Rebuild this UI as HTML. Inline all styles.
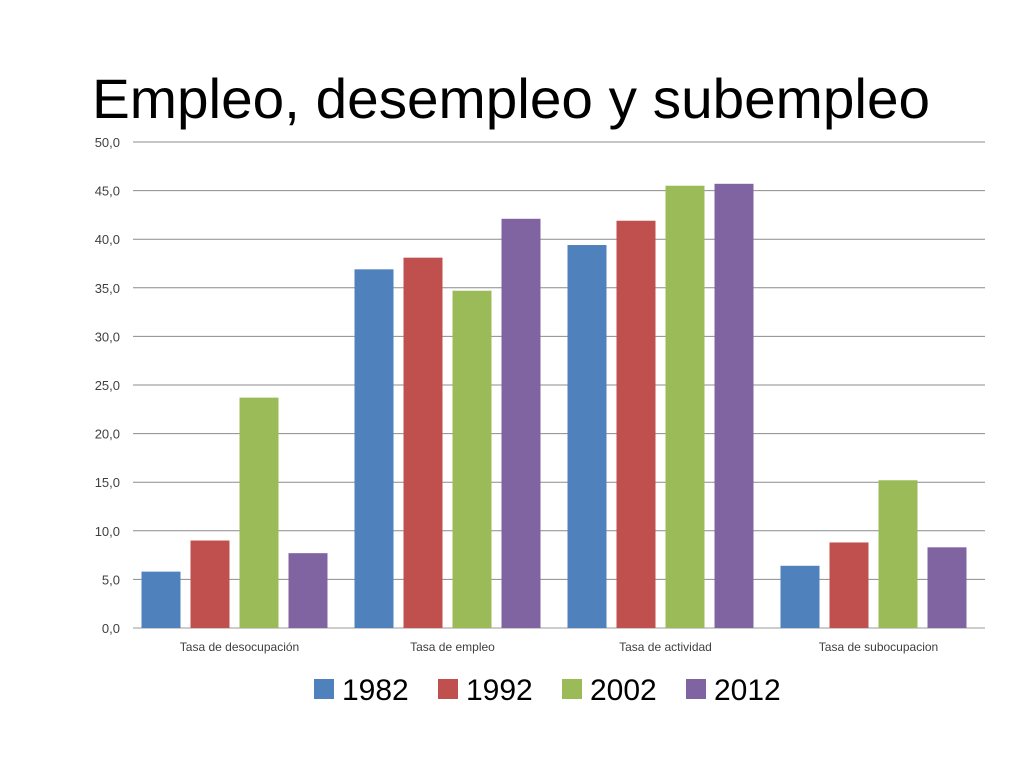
<!DOCTYPE html>
<html><head><meta charset="utf-8"><style>
body{margin:0;background:#fff;}
svg{display:block;font-family:"Liberation Sans",sans-serif;}
</style></head><body>
<svg width="1024" height="768" id="c">
<text x="92" y="118" font-size="56" fill="#000" textLength="838" lengthAdjust="spacingAndGlyphs">Empleo, desempleo y subempleo</text>
</svg>
<script>
const categories=["Tasa de desocupación","Tasa de empleo","Tasa de actividad","Tasa de subocupacion"];
const seriesNames=["1982","1992","2002","2012"];
const s1982=[5.8,36.9,39.4,6.4];
const s1992=[9.0,38.1,41.9,8.8];
const s2002=[23.7,34.7,45.5,15.2];
const s2012=[7.7,42.1,45.7,8.3];
const tickLabels=["0,0","5,0","10,0","15,0","20,0","25,0","30,0","35,0","40,0","45,0","50,0"];
const tickValues=[0,5,10,15,20,25,30,35,40,45,50];
const series=[s1982,s1992,s2002,s2012];
const colors=["#4f81bd","#c0504d","#9bbb59","#8064a2"];
const svg=document.getElementById('c');const NS="http://www.w3.org/2000/svg";
const L=133,R=985,T=142,B=628,ymax=50;
const y=v=>B-(v/ymax)*(B-T);
const cw=(R-L)/categories.length;
const x=(ci,si)=>L+ci*cw+cw/2-98+si*49;
function mk(t,a){const e=document.createElementNS(NS,t);for(const k in a)e.setAttribute(k,a[k]);svg.appendChild(e);return e;}
tickValues.forEach((v,i)=>{
 const g=mk('line',{x1:L,x2:R,y1:y(v),y2:y(v),stroke:v===0?'#999':'#8c8c8c','stroke-width':1});
 
 
 const t=mk('text',{x:120,y:y(v)+5,'font-size':13,'text-anchor':'end',fill:'#404040'});
 t.textContent=tickLabels[i];
 
 
});
series.forEach((s,si)=>s.forEach((v,ci)=>{
 const r=mk('rect',{x:x(ci,si),y:y(v),width:39,height:B-y(v),fill:colors[si]});
 
 
}));
categories.forEach((c,ci)=>{
 const t=mk('text',{x:L+ci*cw+cw/2,y:651,'font-size':12,'text-anchor':'middle',fill:'#404040'});
 t.textContent=c;
 
 
});
seriesNames.forEach((n,i)=>{
 const lx=314+i*124;
 const r=mk('rect',{x:lx,y:679,width:20,height:20,fill:colors[i]});
 
 
 const t=mk('text',{x:lx+28,y:700,'font-size':30,fill:'#000'});
 t.textContent=n;
 
 
});
</script>
</body></html>
